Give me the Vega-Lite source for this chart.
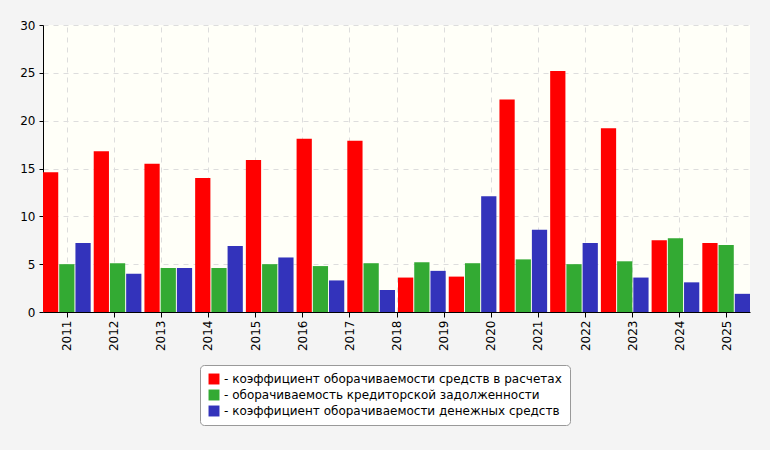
{
  "$schema": "https://vega.github.io/schema/vega-lite/v6.json",
  "width": 707,
  "height": 287,
  "autosize": "none",
  "padding": {"left": 43, "top": 25, "right": 20, "bottom": 138},
  "background": "#f4f4f4",
  "config": {
    "view": {"fill": "#fffff8", "stroke": null},
    "font": "DejaVu Sans",
    "axis": {"labelFont": "DejaVu Sans", "labelFontSize": 12, "labelColor": "#000", "domainColor": "#000", "tickColor": "#000"}
  },
  "data": {"values": [
    {"g": "g01", "s": "- коэффициент оборачиваемости средств в расчетах", "v": 14.6},
    {"g": "g01", "s": "- оборачиваемость кредиторской задолженности", "v": 5.0},
    {"g": "g01", "s": "- коэффициент оборачиваемости денежных средств", "v": 7.2},
    {"g": "g02", "s": "- коэффициент оборачиваемости средств в расчетах", "v": 16.8},
    {"g": "g02", "s": "- оборачиваемость кредиторской задолженности", "v": 5.1},
    {"g": "g02", "s": "- коэффициент оборачиваемости денежных средств", "v": 4.0},
    {"g": "g03", "s": "- коэффициент оборачиваемости средств в расчетах", "v": 15.5},
    {"g": "g03", "s": "- оборачиваемость кредиторской задолженности", "v": 4.6},
    {"g": "g03", "s": "- коэффициент оборачиваемости денежных средств", "v": 4.6},
    {"g": "g04", "s": "- коэффициент оборачиваемости средств в расчетах", "v": 14.0},
    {"g": "g04", "s": "- оборачиваемость кредиторской задолженности", "v": 4.6},
    {"g": "g04", "s": "- коэффициент оборачиваемости денежных средств", "v": 6.9},
    {"g": "g05", "s": "- коэффициент оборачиваемости средств в расчетах", "v": 15.9},
    {"g": "g05", "s": "- оборачиваемость кредиторской задолженности", "v": 5.0},
    {"g": "g05", "s": "- коэффициент оборачиваемости денежных средств", "v": 5.7},
    {"g": "g06", "s": "- коэффициент оборачиваемости средств в расчетах", "v": 18.1},
    {"g": "g06", "s": "- оборачиваемость кредиторской задолженности", "v": 4.8},
    {"g": "g06", "s": "- коэффициент оборачиваемости денежных средств", "v": 3.3},
    {"g": "g07", "s": "- коэффициент оборачиваемости средств в расчетах", "v": 17.9},
    {"g": "g07", "s": "- оборачиваемость кредиторской задолженности", "v": 5.1},
    {"g": "g07", "s": "- коэффициент оборачиваемости денежных средств", "v": 2.3},
    {"g": "g08", "s": "- коэффициент оборачиваемости средств в расчетах", "v": 3.6},
    {"g": "g08", "s": "- оборачиваемость кредиторской задолженности", "v": 5.2},
    {"g": "g08", "s": "- коэффициент оборачиваемости денежных средств", "v": 4.3},
    {"g": "g09", "s": "- коэффициент оборачиваемости средств в расчетах", "v": 3.7},
    {"g": "g09", "s": "- оборачиваемость кредиторской задолженности", "v": 5.1},
    {"g": "g09", "s": "- коэффициент оборачиваемости денежных средств", "v": 12.1},
    {"g": "g10", "s": "- коэффициент оборачиваемости средств в расчетах", "v": 22.2},
    {"g": "g10", "s": "- оборачиваемость кредиторской задолженности", "v": 5.5},
    {"g": "g10", "s": "- коэффициент оборачиваемости денежных средств", "v": 8.6},
    {"g": "g11", "s": "- коэффициент оборачиваемости средств в расчетах", "v": 25.2},
    {"g": "g11", "s": "- оборачиваемость кредиторской задолженности", "v": 5.0},
    {"g": "g11", "s": "- коэффициент оборачиваемости денежных средств", "v": 7.2},
    {"g": "g12", "s": "- коэффициент оборачиваемости средств в расчетах", "v": 19.2},
    {"g": "g12", "s": "- оборачиваемость кредиторской задолженности", "v": 5.3},
    {"g": "g12", "s": "- коэффициент оборачиваемости денежных средств", "v": 3.6},
    {"g": "g13", "s": "- коэффициент оборачиваемости средств в расчетах", "v": 7.5},
    {"g": "g13", "s": "- оборачиваемость кредиторской задолженности", "v": 7.7},
    {"g": "g13", "s": "- коэффициент оборачиваемости денежных средств", "v": 3.1},
    {"g": "g14", "s": "- коэффициент оборачиваемости средств в расчетах", "v": 7.2},
    {"g": "g14", "s": "- оборачиваемость кредиторской задолженности", "v": 7.0},
    {"g": "g14", "s": "- коэффициент оборачиваемости денежных средств", "v": 1.9}
  ]},
  "layer": [
    {
      "mark": {"type": "bar"},
      "encoding": {
        "x": {"field": "g", "type": "nominal", "axis": null, "scale": {"paddingInner": 0.06, "paddingOuter": 0}},
        "xOffset": {"field": "s", "type": "nominal", "sort": null, "scale": {"paddingInner": 0.06}},
        "y": {"field": "v", "type": "quantitative", "scale": {"domain": [0, 30]},
          "axis": {"title": null, "values": [0, 5, 10, 15, 20, 25, 30], "gridDash": [5, 5], "gridColor": "#dddddd", "tickSize": 4, "labelPadding": 4}},
        "color": {"field": "s", "type": "nominal", "sort": null,
          "scale": {"range": ["#ff0000", "#33aa33", "#3333bb"]},
          "legend": {"title": null, "orient": "none", "legendX": 157, "legendY": 340, "symbolType": "square", "symbolSize": 120,
            "symbolStrokeWidth": 0, "labelFontSize": 12, "labelFont": "DejaVu Sans", "labelLimit": 400, "rowPadding": 4,
            "padding": 8, "strokeColor": "#999", "fillColor": "#ffffff", "cornerRadius": 4}}
      }
    },
    {
      "data": {"values": [
        {"yr": "2011"}, {"yr": "2012"}, {"yr": "2013"}, {"yr": "2014"}, {"yr": "2015"},
        {"yr": "2016"}, {"yr": "2017"}, {"yr": "2018"}, {"yr": "2019"}, {"yr": "2020"},
        {"yr": "2021"}, {"yr": "2022"}, {"yr": "2023"}, {"yr": "2024"}, {"yr": "2025"}
      ]},
      "mark": {"type": "tick", "opacity": 0},
      "encoding": {
        "x": {"field": "yr", "type": "ordinal", "scale": {"type": "point", "padding": 0.5},
          "axis": {"title": null, "labelAngle": -90, "labelAlign": "right", "labelBaseline": "middle", "grid": true, "gridDash": [5, 5], "gridColor": "#dddddd", "tickSize": 5, "labelPadding": 3}}
      }
    }
  ],
  "resolve": {"scale": {"x": "independent"}}
}
